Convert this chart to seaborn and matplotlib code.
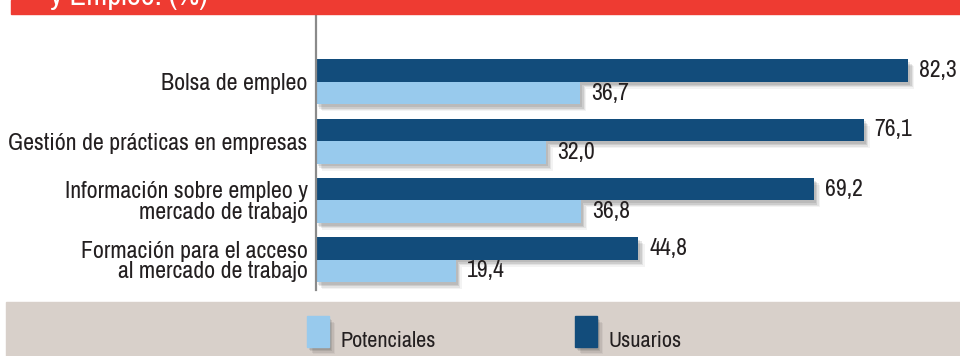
import matplotlib
matplotlib.use("Agg")
import matplotlib.pyplot as plt
import matplotlib.patheffects as pe
from matplotlib.patches import Rectangle
import pandas as pd
import seaborn as sns

categories = [
    "Bolsa de empleo",
    "Gestión de prácticas en empresas",
    "Información sobre empleo y\nmercado de trabajo",
    "Formación para el acceso\nal mercado de trabajo",
]
usuarios = [82.3, 76.1, 69.2, 44.8]
potenciales = [36.7, 32.0, 36.8, 19.4]
series_names = ["Usuarios", "Potenciales"]
title_text = "y Empleo. (%)"

DARK = "#124C7B"
LIGHT = "#98CAED"
TEXT = "#231F20"

sns.set_theme(style="white")
plt.rcParams["font.family"] = ["Archivo Narrow", "DejaVu Sans"]

df = pd.DataFrame({
    "categoria": categories * 2,
    "valor": usuarios + potenciales,
    "serie": [series_names[0]] * len(categories) + [series_names[1]] * len(categories),
})

W, H = 960, 356
fig = plt.figure(figsize=(W / 100, H / 100), dpi=100)

# red title banner (text partially cut by the top edge)
fig.patches.append(Rectangle((11 / W, (H - 13.5) / H), 1 - 11 / W, 13.5 / H,
                             transform=fig.transFigure, color="#EE3B32", zorder=0))
fig.text(50 / W, (H - 4.5) / H, title_text, color="white", fontsize=22,
         fontweight="bold", ha="left", va="baseline")

# grey band behind the legend
fig.patches.append(Rectangle((6 / W, 0), 1 - 6 / W, (H - 302) / H,
                             transform=fig.transFigure, color="#D8D0CA", zorder=0))

ax = fig.add_axes([316 / W, (H - 290) / H, (W - 316) / W, (290 - 13.5) / H])
ax.set_facecolor("none")

sns.barplot(data=df, y="categoria", x="valor", hue="serie", hue_order=series_names,
            order=categories, orient="h", palette=[DARK, LIGHT], width=0.76,
            gap=0, saturation=1, legend=False, ax=ax)

# soft drop shadow built from a few offset translucent copies
shadow = [
    pe.SimplePatchShadow(offset=(1.5, -2.0), shadow_rgbFace="k", alpha=0.10),
    pe.SimplePatchShadow(offset=(2.5, -3.0), shadow_rgbFace="k", alpha=0.10),
    pe.SimplePatchShadow(offset=(3.5, -4.0), shadow_rgbFace="k", alpha=0.08),
    pe.SimplePatchShadow(offset=(4.5, -5.0), shadow_rgbFace="k", alpha=0.05),
    pe.Normal(),
]
for p in ax.patches:
    p.set_path_effects(shadow)
    p.set_linewidth(0)

for c in ax.containers:
    labels = [f"{v:.1f}".replace(".", ",") for v in c.datavalues]
    ax.bar_label(c, labels=labels, padding=8, fontsize=17, color=TEXT)

ax.set_xlim(0, 89.5)
ax.set_ylim(3.514, -1.155)
ax.set_xlabel("")
ax.set_ylabel("")
ax.set_xticks([])
ax.tick_params(axis="y", length=0, pad=6, labelsize=17.2, labelcolor=TEXT)
for lbl in ax.get_yticklabels():
    lbl.set_linespacing(0.97)
for s in ["top", "right", "bottom"]:
    ax.spines[s].set_visible(False)
ax.spines["left"].set_color("#8A8A8A")
ax.spines["left"].set_linewidth(1.6)

# legend: swatches with labels
legend_items = [("Potenciales", LIGHT, 307), ("Usuarios", DARK, 575)]
for name, col, x0 in legend_items:
    r = Rectangle((x0 / W, (H - 347) / H), 22 / W, 31 / H, transform=fig.transFigure,
                  color=col, zorder=2)
    r.set_path_effects(shadow)
    fig.patches.append(r)
    fig.text((x0 + 34) / W, (H - 347) / H, name, fontsize=16, color=TEXT,
             ha="left", va="baseline")

fig.savefig("out.png", dpi=100)
